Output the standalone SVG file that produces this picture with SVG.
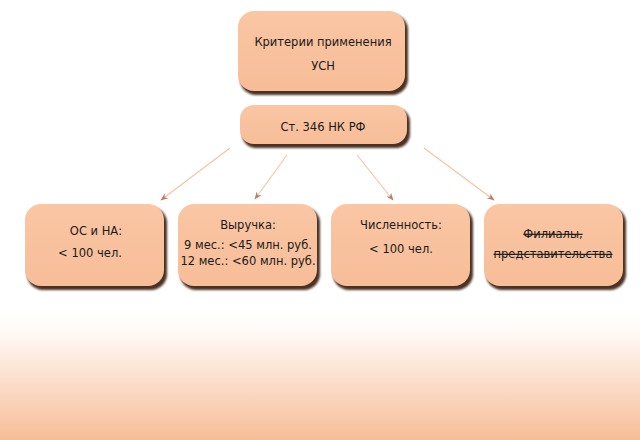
<svg xmlns="http://www.w3.org/2000/svg" width="640" height="440" viewBox="0 0 640 440">
<defs>
<linearGradient id="bg" x1="0" y1="0" x2="0" y2="1">
<stop offset="0" stop-color="#ffffff"/>
<stop offset="0.15" stop-color="#fffaf7"/>
<stop offset="1" stop-color="#f7bd97"/>
</linearGradient>
<linearGradient id="boxfill" x1="0" y1="0" x2="0" y2="1">
<stop offset="0" stop-color="#fac6a4"/>
<stop offset="1" stop-color="#f7bd98"/>
</linearGradient>
<filter id="sh" x="-10%" y="-10%" width="125%" height="130%">
<feGaussianBlur stdDeviation="1.2"/>
</filter>
<marker id="arr" viewBox="0 0 10 10" refX="9" refY="5" markerWidth="7" markerHeight="7" orient="auto">
<path d="M0,1 L10,5 L0,9 L3,5 Z" fill="#b98062"/>
</marker>
<style>
.shadow{fill:#4a3020;filter:url(#sh);}
.box{fill:url(#boxfill);}
.t{font-family:"DejaVu Sans",Verdana,sans-serif;font-size:11.5px;fill:#1a1a1a;text-anchor:middle;}
.conn{stroke:#f6c2a2;stroke-width:1.1;fill:none;marker-end:url(#arr);}
</style>
</defs>
<rect x="0" y="0" width="640" height="440" fill="#ffffff"/>
<rect x="0" y="312" width="640" height="128" fill="url(#bg)"/>

<g id="connectors">
<line class="conn" x1="230" y1="148" x2="161" y2="200"/>
<line class="conn" x1="287" y1="155" x2="255" y2="199"/>
<line class="conn" x1="357" y1="155" x2="393" y2="200"/>
<line class="conn" x1="424" y1="148" x2="494" y2="200"/>
</g>

<g id="n-criteria">
<rect class="shadow" x="240" y="14" width="168" height="81" rx="16"/>
<rect class="box" x="238" y="11" width="167" height="80" rx="16"/>
<text class="t" x="323" y="46">Критерии применения</text>
<text class="t" x="323" y="70">УСН</text>
</g>

<g id="n-article">
<rect class="shadow" x="242" y="108" width="168" height="40" rx="14"/>
<rect class="box" x="240" y="105" width="167" height="39" rx="14"/>
<text class="t" x="323" y="131">Ст. 346 НК РФ</text>
</g>

<g id="n-os">
<rect class="shadow" x="27" y="207" width="140" height="83" rx="16"/>
<rect class="box" x="25" y="204" width="139" height="82" rx="16"/>
<text class="t" x="96" y="235">ОС и НА:</text>
<text class="t" x="90" y="257">&lt; 100 чел.</text>
</g>

<g id="n-revenue">
<rect class="shadow" x="180" y="207" width="140" height="83" rx="16"/>
<rect class="box" x="178" y="204" width="139" height="82" rx="16"/>
<text class="t" x="248" y="229">Выручка:</text>
<text class="t" x="248" y="249">9 мес.: &lt;45 млн. руб.</text>
<text class="t" x="248" y="265">12 мес.: &lt;60 млн. руб.</text>
</g>

<g id="n-staff">
<rect class="shadow" x="333" y="207" width="140" height="83" rx="16"/>
<rect class="box" x="331" y="204" width="139" height="82" rx="16"/>
<text class="t" x="401" y="229">Численность:</text>
<text class="t" x="401" y="253">&lt; 100 чел.</text>
</g>

<g id="n-branches">
<rect class="shadow" x="486" y="207" width="140" height="83" rx="16"/>
<rect class="box" x="484" y="204" width="139" height="82" rx="16"/>
<text class="t" x="553" y="238" text-decoration="line-through">Филиалы,</text>
<text class="t" x="553" y="258" text-decoration="line-through">представительства</text>
</g>
</svg>
